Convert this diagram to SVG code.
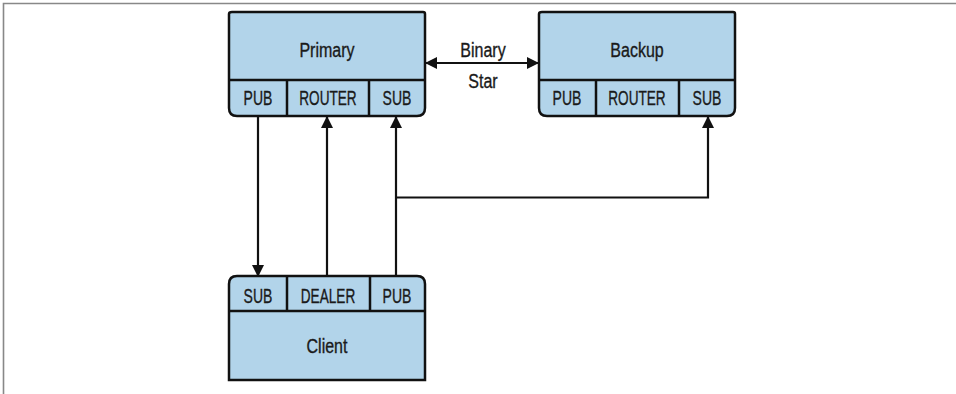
<svg xmlns="http://www.w3.org/2000/svg" width="956" height="394" viewBox="0 0 956 394">
<defs>
<style>
.box{fill:#b2d4ea;stroke:#111;stroke-width:2.5;}
.div{fill:none;stroke:#111;stroke-width:2.5;}
.lbl{font-family:"Liberation Sans",Arial,sans-serif;font-size:20px;fill:#1a1a1a;stroke:#1a1a1a;stroke-width:0.35;text-anchor:middle;}
.con{fill:none;stroke:#111;stroke-width:2.2;}
</style>
<marker id="ah" viewBox="0 0 12 12" refX="11" refY="6" markerWidth="12" markerHeight="12" markerUnits="userSpaceOnUse" orient="auto-start-reverse">
<path d="M0,0 L12,6 L0,12 Z" fill="#111"/>
</marker>
</defs>
<rect width="956" height="394" fill="#fff"/>
<path d="M3.5,394 V3.5 H956" fill="none" stroke="#888" stroke-width="1.6"/>

<g id="primary">
<path class="box" d="M232,12 H423 Q425,12 425,14 V108 Q425,116 417,116 H237 Q229,116 229,108 V14 Q229,12 232,12 Z"/>
<path class="div" d="M229,80 H425 M287,80 V116 M369,80 V116"/>
<text class="lbl" transform="translate(327,57) scale(0.8,1)">Primary</text>
<text class="lbl" transform="translate(258,105) scale(0.7,1)">PUB</text>
<text class="lbl" transform="translate(328,105) scale(0.68,1)">ROUTER</text>
<text class="lbl" transform="translate(397,105) scale(0.7,1)">SUB</text>
</g>

<g id="backup">
<path class="box" d="M542,12 H733 Q735,12 735,14 V108 Q735,116 727,116 H547 Q539,116 539,108 V14 Q539,12 542,12 Z"/>
<path class="div" d="M539,80 H735 M596,80 V116 M679,80 V116"/>
<text class="lbl" transform="translate(637,57) scale(0.8,1)">Backup</text>
<text class="lbl" transform="translate(567,105) scale(0.7,1)">PUB</text>
<text class="lbl" transform="translate(637,105) scale(0.68,1)">ROUTER</text>
<text class="lbl" transform="translate(707,105) scale(0.7,1)">SUB</text>
</g>

<g id="client">
<path class="box" d="M237,276 H417 Q425,276 425,284 V380 H229 V284 Q229,276 237,276 Z"/>
<path class="div" d="M229,311 H425 M287,276 V311 M370,276 V311"/>
<text class="lbl" transform="translate(258,302.5) scale(0.7,1)">SUB</text>
<text class="lbl" transform="translate(328,302.5) scale(0.68,1)">DEALER</text>
<text class="lbl" transform="translate(397,302.5) scale(0.7,1)">PUB</text>
<text class="lbl" transform="translate(327,352.5) scale(0.8,1)">Client</text>
</g>

<g id="connectors">
<line class="con" x1="258" y1="117" x2="258" y2="276" marker-end="url(#ah)"/>
<line class="con" x1="327" y1="276" x2="327" y2="117" marker-end="url(#ah)"/>
<line class="con" x1="396" y1="276" x2="396" y2="117" marker-end="url(#ah)"/>
<polyline class="con" points="396,197.5 708,197.5 708,117" marker-end="url(#ah)"/>
<line class="con" x1="426" y1="63" x2="538" y2="63" marker-start="url(#ah)" marker-end="url(#ah)"/>
<text class="lbl" transform="translate(483,56.5) scale(0.8,1)">Binary</text>
<text class="lbl" transform="translate(483,88) scale(0.8,1)">Star</text>
</g>
</svg>
